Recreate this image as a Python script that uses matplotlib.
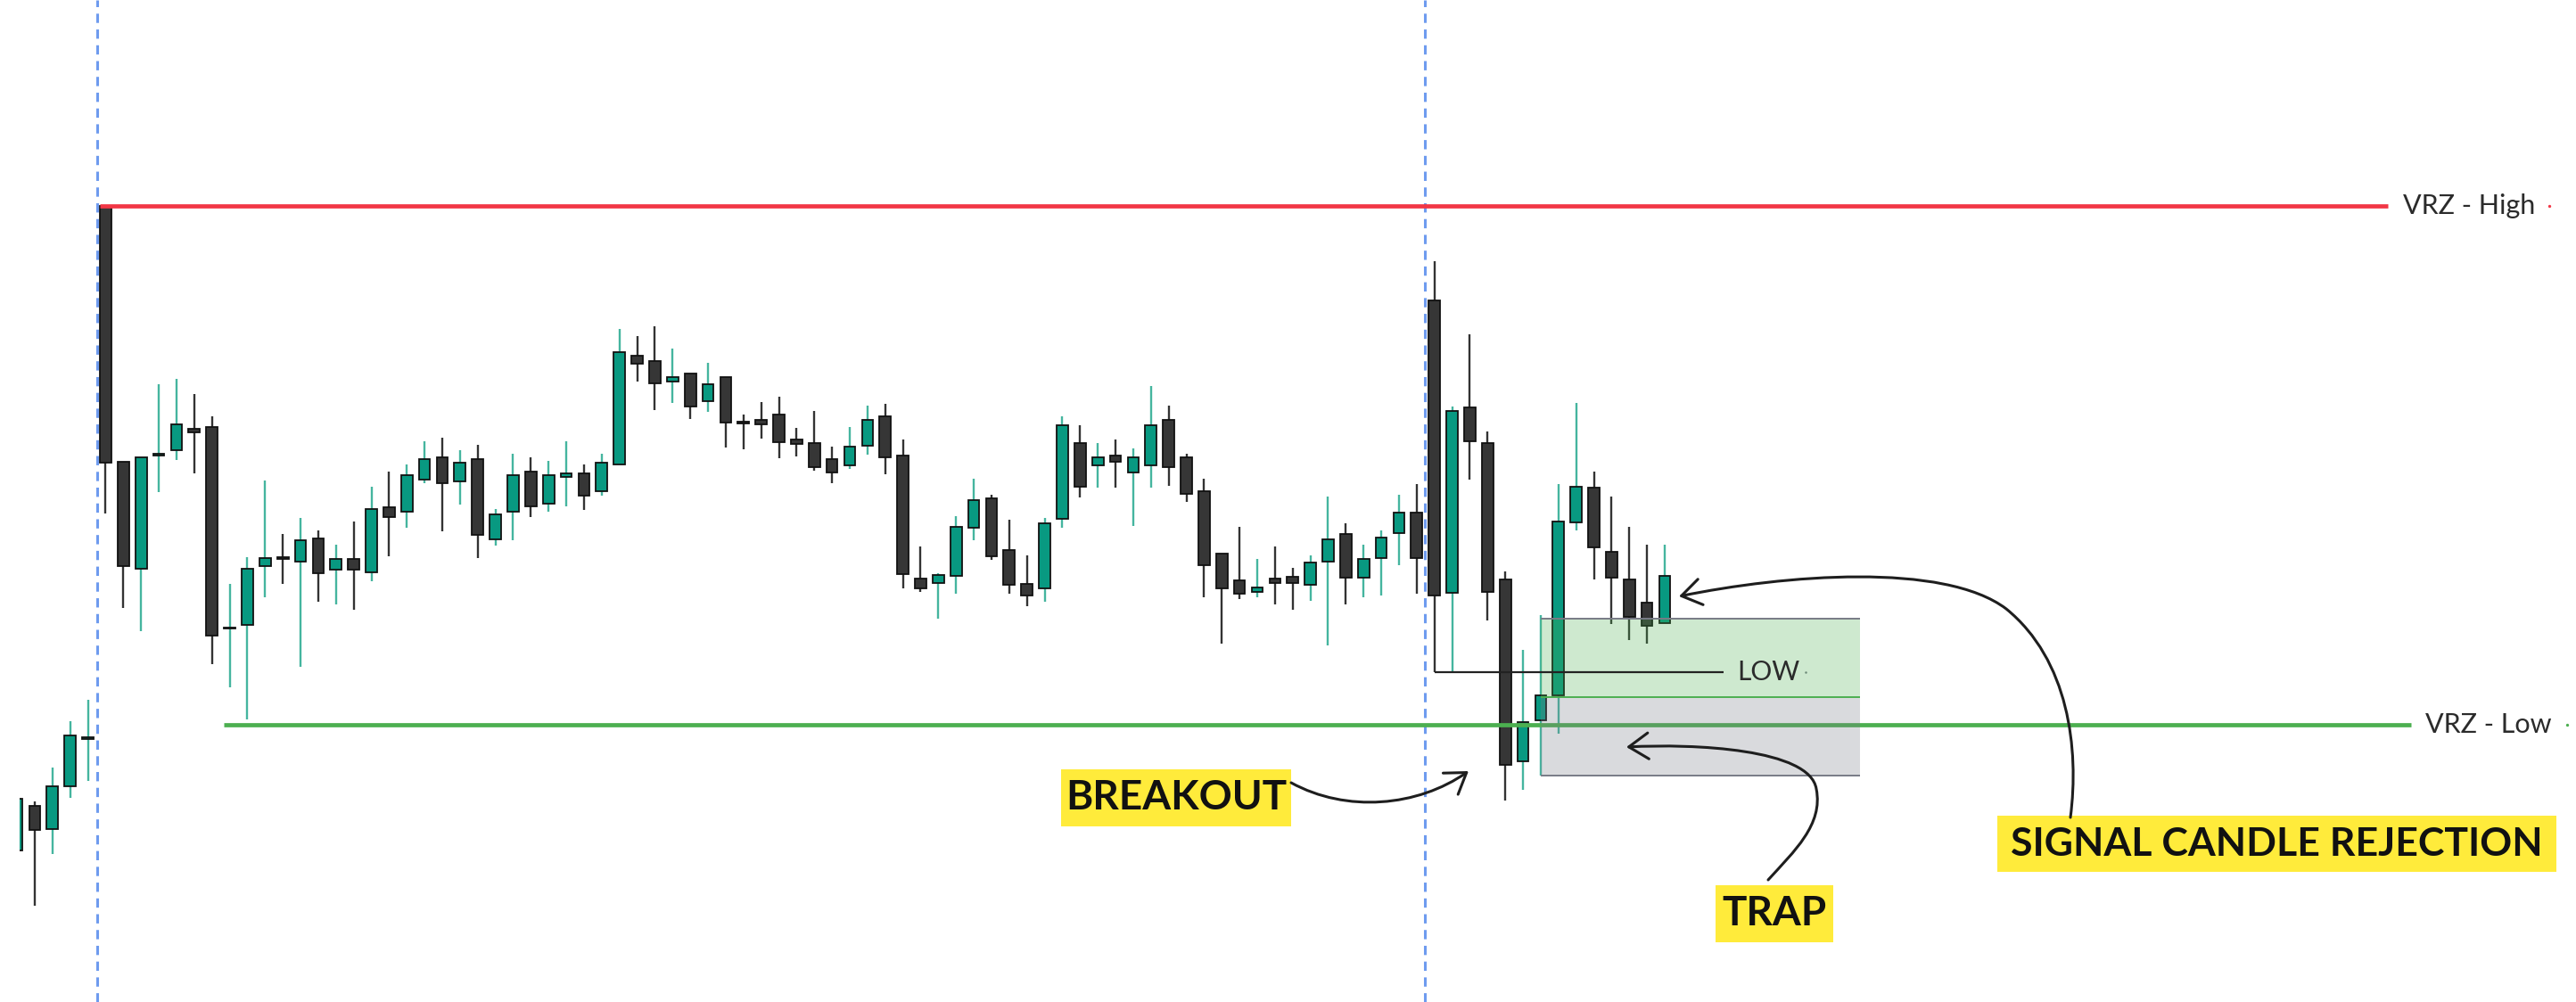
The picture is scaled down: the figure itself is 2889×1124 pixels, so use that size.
import matplotlib
matplotlib.use("Agg")
import matplotlib.pyplot as plt
from matplotlib.patches import Rectangle, FancyArrowPatch, ArrowStyle
from matplotlib.path import Path
import numpy as np

# ---------------- data (arbitrary price units) ----------------
opens = [17.0, 22.0, 19.4, 24.2, 29.5, 89.35, 60.6, 48.6, 61.3, 61.9,
         64.3, 64.5, 41.9, 42.3, 48.9, 49.9, 49.45, 52.0, 48.5, 49.7,
         48.25, 55.5, 55.0, 58.65, 61.1, 58.4, 60.9, 51.9, 55.0, 59.5,
         55.9, 58.9, 59.3, 57.3, 60.3, 72.5, 71.95, 69.65, 70.5, 67.45,
         70.1, 65.1, 65.35, 65.9, 63.1, 62.7, 60.9, 60.25, 62.45, 65.7,
         61.3, 47.5, 47.05, 47.85, 53.25, 56.5, 50.7, 46.9, 46.45, 54.25,
         62.7, 60.25, 61.3, 59.45, 60.25, 65.3, 61.1, 57.3, 50.3, 47.3,
         46.05, 47.5, 47.7, 46.85, 49.45, 52.5, 47.65, 49.85, 52.65, 54.9,
         78.7, 45.9, 66.7, 62.7, 47.45, 27.0, 31.65, 34.45, 53.85, 57.7,
         50.5, 47.45, 44.85, 42.5]
highs = [22.8, 22.5, 26.3, 31.5, 33.9, 89.35, 60.6, 61.1, 69.3, 69.9,
         68.2, 65.7, 46.9, 49.9, 58.5, 52.5, 54.3, 52.95, 51.35, 53.9,
         57.8, 59.55, 60.35, 62.95, 63.3, 61.95, 62.5, 55.3, 61.55, 61.1,
         60.75, 62.9, 60.3, 61.55, 75.55, 74.75, 75.8, 73.35, 70.5, 71.75,
         70.1, 65.9, 67.35, 67.95, 64.4, 66.3, 62.3, 64.55, 66.95, 67.15,
         63.15, 51.15, 48.15, 54.55, 58.75, 56.9, 54.15, 50.15, 54.3, 65.75,
         64.75, 62.75, 63.15, 62.15, 69.15, 66.95, 61.5, 58.7, 50.3, 53.3,
         49.75, 51.15, 48.75, 50.15, 56.75, 53.75, 51.35, 52.95, 56.95, 58.15,
         83.15, 66.85, 74.9, 64.0, 48.3, 39.55, 43.45, 58.15, 67.2, 59.5,
         56.75, 53.35, 51.35, 51.3]
lows = [17.0, 10.8, 16.6, 22.9, 24.8, 54.8, 44.2, 41.6, 57.2, 60.8,
        59.3, 37.9, 35.3, 31.7, 45.4, 46.9, 37.6, 44.9, 44.6, 44.0,
        47.2, 50.0, 53.25, 58.2, 52.8, 55.8, 49.8, 51.2, 51.8, 54.4,
        55.0, 55.6, 55.2, 56.85, 60.3, 69.6, 66.4, 67.2, 65.4, 66.2,
        62.2, 62.0, 63.2, 61.0, 61.25, 59.6, 58.2, 59.8, 61.4, 59.2,
        46.4, 46.0, 43.0, 45.8, 51.8, 49.6, 45.8, 44.4, 44.95, 53.2,
        56.65, 57.75, 57.75, 53.4, 57.75, 57.95, 56.15, 45.4, 40.2, 45.25,
        45.4, 44.6, 44.0, 45.0, 40.0, 44.6, 45.4, 45.6, 49.0, 45.8,
        37.05, 37.05, 58.6, 42.85, 22.6, 23.8, 25.45, 30.15, 52.95, 47.45,
        42.4, 40.6, 40.2, 42.5]
closes = [22.8, 19.3, 24.2, 29.9, 29.7, 60.5, 48.9, 61.1, 61.5, 64.8,
          63.9, 41.1, 42.0, 48.6, 49.85, 49.7, 51.8, 48.1, 49.7, 48.5,
          55.3, 54.45, 59.1, 60.9, 58.2, 60.5, 52.4, 54.7, 59.1, 55.65,
          59.1, 59.3, 56.85, 60.5, 72.9, 71.65, 69.45, 70.1, 66.85, 69.3,
          65.0, 64.9, 64.85, 62.85, 62.65, 60.05, 59.45, 62.3, 65.3, 61.1,
          48.0, 46.45, 47.9, 53.3, 56.3, 50.05, 46.85, 45.65, 53.7, 64.7,
          57.85, 61.1, 60.65, 61.1, 64.7, 60.05, 57.05, 49.05, 46.45, 45.85,
          46.5, 47.05, 47.05, 49.3, 51.9, 47.65, 49.7, 52.1, 54.9, 49.85,
          45.65, 66.3, 62.9, 46.0, 26.65, 31.45, 34.45, 53.9, 57.85, 51.0,
          47.65, 43.2, 42.2, 47.85]

vrz_high = 89.35
vrz_low = 31.1
zone_top = 43.05
zone_mid = 34.25
zone_bottom = 25.45
low_level = 37.05

level_labels = ["VRZ - High", "VRZ - Low"]
notes = ["BREAKOUT", "TRAP", "SIGNAL CANDLE REJECTION"]

# ---------------- styling ----------------
W, H = 2889, 1124
UP = "#089981"
UP_WICK = "#45B59F"
DOWN = "#363636"
DOWN_WICK = "#333333"
RED = "#F23645"
GREEN = "#4CAF50"
BLUE = "#6E9BEF"
YELLOW = "#FFEB3B"
GREY = "#787B86"
FONT = ["Lato", "DejaVu Sans"]

x0_px, step_px = 19.1, 19.87
left_px = 22


def px2x(px):
    return (px - x0_px) / step_px


def py2y(py):
    return 112.4 - py / 10.0


fig = plt.figure(figsize=(W / 100, H / 100), dpi=100)
fig.patch.set_facecolor("white")
ax = fig.add_axes([left_px / W, 0, 1 - left_px / W, 1])
ax.set_xlim(px2x(left_px), px2x(W))
ax.set_ylim(0, 112.4)
ax.axis("off")

o = np.array(opens)
h = np.array(highs)
l = np.array(lows)
c = np.array(closes)
x = np.arange(len(o))
up = c >= o
bw = 0.64

# wicks
ax.vlines(x[up], l[up], h[up], color=UP_WICK, lw=1.7, zorder=2)
ax.vlines(x[~up], l[~up], h[~up], color=DOWN_WICK, lw=1.7, zorder=2)
# bodies
bot = np.minimum(o, c)
hgt = np.maximum(np.abs(c - o), 0.15)
ax.bar(x[up], hgt[up], bottom=bot[up], width=bw, color=UP,
       edgecolor="#111111", linewidth=1.3, zorder=3)
ax.bar(x[~up], hgt[~up], bottom=bot[~up], width=bw, color=DOWN,
       edgecolor="#111111", linewidth=1.3, zorder=3)

# vertical session separators
for xv in (4.5, 79.45):
    ax.axvline(xv, color=BLUE, lw=2.2, linestyle=(0, (3.4, 2.4)), zorder=1)

# VRZ levels
ax.hlines(vrz_high, 5 - bw / 2, px2x(2678), color=RED, lw=3.4, zorder=4)
ax.hlines(vrz_low, 12 - bw / 2, px2x(2704), color=GREEN, lw=3.4, zorder=4)
ax.text(px2x(2695), vrz_high, level_labels[0], fontsize=22, family=FONT,
        color="#2b2b2b", va="center", ha="left")
ax.plot([px2x(2859)], [vrz_high], marker="o", ms=2.4, color=RED, mec="none")
ax.text(px2x(2720), vrz_low, level_labels[1], fontsize=22, family=FONT,
        color="#2b2b2b", va="center", ha="left")
ax.plot([px2x(2879)], [vrz_low], marker="o", ms=2.4, color=GREEN, mec="none")

# zone box
zx0, zx1 = 86, 104
ax.add_patch(Rectangle((zx0, zone_mid), zx1 - zx0, zone_top - zone_mid,
                       facecolor=GREEN, alpha=0.27, edgecolor="none", zorder=5))
ax.add_patch(Rectangle((zx0, zone_bottom), zx1 - zx0, zone_mid - zone_bottom,
                       facecolor=GREY, alpha=0.28, edgecolor="none", zorder=5))
ax.hlines([zone_top, zone_bottom], zx0, zx1, color=GREY, lw=1.4, zorder=5)
ax.hlines(zone_mid, zx0, zx1, color=GREEN, lw=1.4, zorder=5)

# LOW marker line
ax.hlines(low_level, 80, px2x(1933), color="#222222", lw=1.6, zorder=6)
ax.text(px2x(1948), low_level, "LOW", fontsize=21.5, family=FONT,
        color="#2b2b2b", va="center", ha="left", zorder=6)
ax.plot([px2x(2025)], [low_level], marker="o", ms=1.8, color=GREY, mec="none")


# yellow labels
def label(txt, bx0, bx1, by0, by1, size):
    ax.add_patch(Rectangle((px2x(bx0), py2y(by1)), px2x(bx1) - px2x(bx0),
                           py2y(by0) - py2y(by1), facecolor=YELLOW,
                           edgecolor="none", zorder=7))
    ax.text(px2x((bx0 + bx1) / 2), py2y((by0 + by1) / 2) - 0.05, txt,
            fontsize=size, family=FONT, fontweight="bold", color="#111111",
            ha="center", va="center", zorder=8)


label(notes[0], 1190, 1448, 863, 927, 33)
label(notes[1], 1924, 2056, 993, 1057, 33)
label(notes[2], 2240, 2867, 915, 978, 32)


# curved arrows
def curved_arrow(pts):
    verts = [(px2x(a), py2y(b)) for a, b in pts]
    codes = [Path.MOVETO] + [Path.CURVE4] * (len(verts) - 1)
    arr = FancyArrowPatch(path=Path(verts, codes),
                          arrowstyle=ArrowStyle("->", head_length=0.45, head_width=0.3),
                          mutation_scale=35, lw=2.2, color="#1e1e1e",
                          shrinkA=0, shrinkB=0, zorder=9)
    ax.add_patch(arr)


curved_arrow([(1448, 878), (1510, 912), (1590, 905), (1647, 865)])
curved_arrow([(1983, 987), (2012, 955), (2045, 925), (2037, 885),
              (2030, 840), (1900, 834), (1824, 838)])
curved_arrow([(2322, 917), (2332, 840), (2320, 740), (2250, 683),
              (2180, 630), (2000, 645), (1883, 669)])

fig.savefig("out.png", dpi=100, facecolor="white")
